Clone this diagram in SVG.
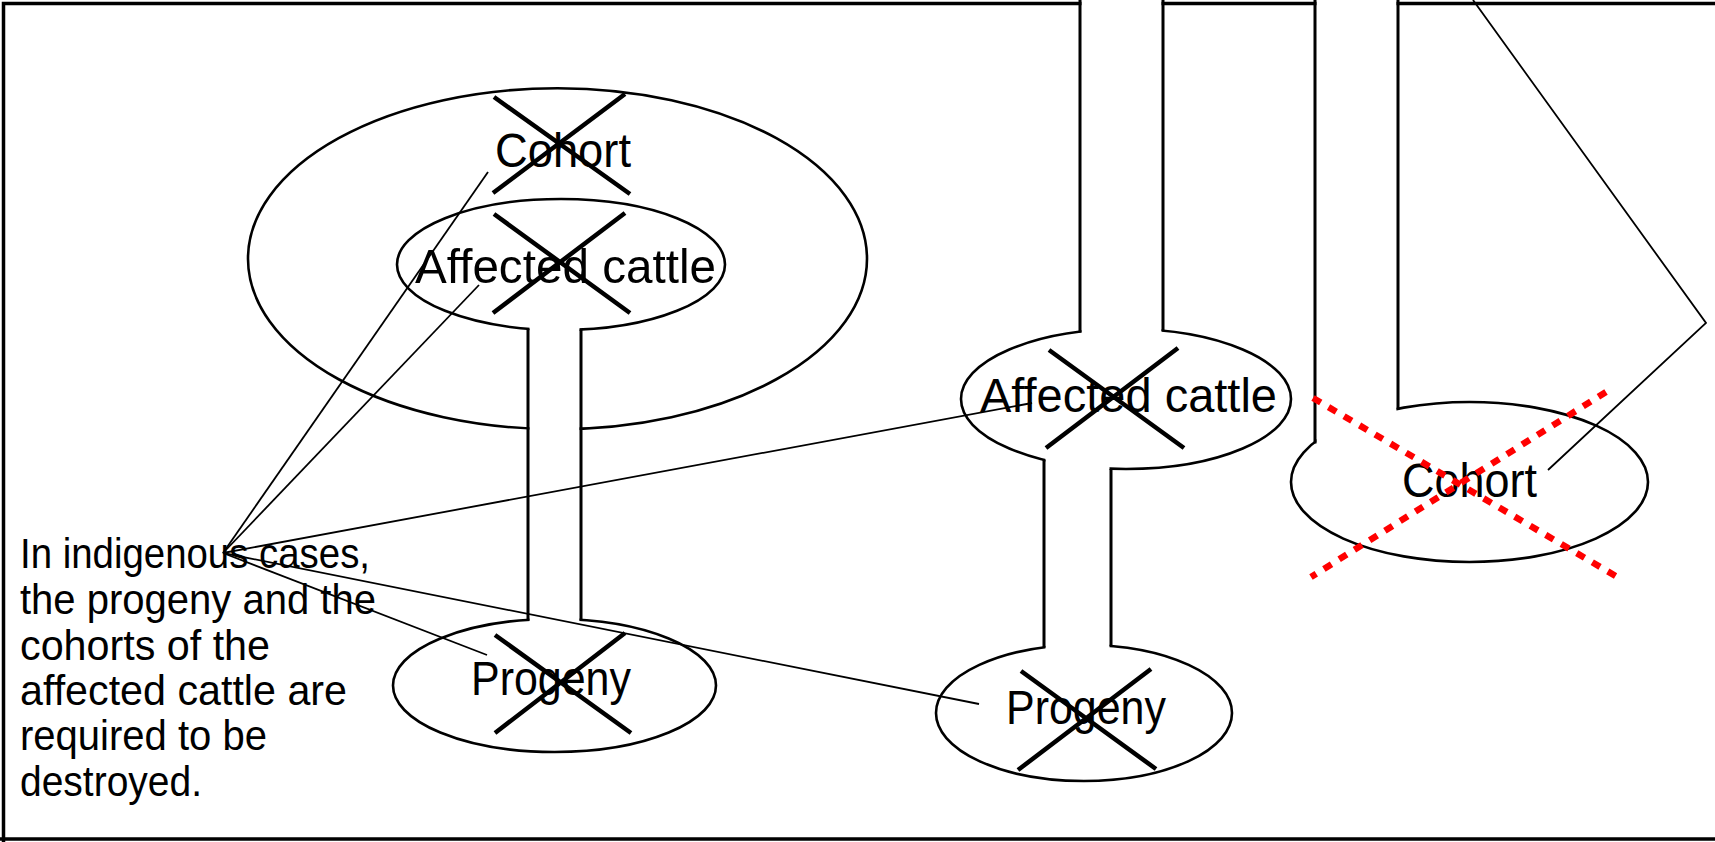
<svg xmlns="http://www.w3.org/2000/svg" width="1715" height="842" viewBox="0 0 1715 842">
<style>
.frame{stroke:#000;stroke-width:3.5;fill:none}
.ell{fill:#fff;stroke:#000;stroke-width:2.6}
.pipe{fill:#fff;stroke:none}
.pl{stroke:#000;stroke-width:3;fill:none}
.lbl{font-family:"Liberation Sans",Arial,sans-serif;font-size:49px;fill:#000}
.note{font-family:"Liberation Sans",Arial,sans-serif;font-size:43px;fill:#000}
.x{stroke:#000;stroke-width:4.5;fill:none}
.lead{stroke:#000;stroke-width:1.8;fill:none}
.red{stroke:#ff0000;stroke-width:6.5;stroke-dasharray:9 9;fill:none}
</style>
<rect width="1715" height="842" fill="#fff"/>
<g id="frame">
<path class="frame" d="M3.5,842 V3.5 H1715 M0,839 H1715"/>
</g>
<g id="node-cohort-1">
<ellipse class="ell" cx="557.5" cy="258.7" rx="309.5" ry="170.5"/>
</g>
<g id="node-affected-1">
<ellipse class="ell" cx="561" cy="264.5" rx="164" ry="65.5"/>
</g>
<g id="node-progeny-1">
<ellipse class="ell" cx="554.5" cy="685.5" rx="161.5" ry="66.5"/>
</g>
<g id="node-affected-2">
<ellipse class="ell" cx="1126" cy="399" rx="165" ry="70"/>
</g>
<g id="node-progeny-2">
<ellipse class="ell" cx="1084" cy="713" rx="148" ry="68"/>
</g>
<g id="node-cohort-2">
<ellipse class="ell" cx="1469.5" cy="482" rx="178.5" ry="80"/>
</g>
<g id="pipes">
<rect class="pipe" x="529.5" y="326" width="50" height="298"/>
<path class="pl" d="M528,328.7 V620.5 M581,329.5 V620.5"/>
<rect class="pipe" x="1081.5" y="0" width="80" height="334"/>
<path class="pl" d="M1080,0 V332.5 M1163,0 V331"/>
<rect class="pipe" x="1045.5" y="455" width="64" height="195"/>
<path class="pl" d="M1044,460 V647.5 M1111,469 V646"/>
<rect class="pipe" x="1316.5" y="0" width="80" height="445"/>
<path class="pl" d="M1315,0 V443.5 M1398,0 V409.5"/>
</g>
<g id="labels">
<text class="lbl" x="495" y="167" textLength="136" lengthAdjust="spacingAndGlyphs">Cohort</text>
<text class="lbl" x="415" y="283" textLength="301" lengthAdjust="spacingAndGlyphs">Affected cattle</text>
<text class="lbl" x="471" y="695" textLength="160" lengthAdjust="spacingAndGlyphs">Progeny</text>
<text class="lbl" x="980" y="412" textLength="297" lengthAdjust="spacingAndGlyphs">Affected cattle</text>
<text class="lbl" x="1006" y="724" textLength="160" lengthAdjust="spacingAndGlyphs">Progeny</text>
<text class="lbl" x="1402" y="497" textLength="135" lengthAdjust="spacingAndGlyphs">Cohort</text>
</g>
<g id="note">
<text class="note" x="20" y="568" textLength="350" lengthAdjust="spacingAndGlyphs">In indigenous cases,</text>
<text class="note" x="20" y="614" textLength="356" lengthAdjust="spacingAndGlyphs">the progeny and the</text>
<text class="note" x="20" y="660" textLength="250" lengthAdjust="spacingAndGlyphs">cohorts of the</text>
<text class="note" x="20" y="705" textLength="327" lengthAdjust="spacingAndGlyphs">affected cattle are</text>
<text class="note" x="20" y="750" textLength="247" lengthAdjust="spacingAndGlyphs">required to be</text>
<text class="note" x="20" y="796" textLength="182" lengthAdjust="spacingAndGlyphs">destroyed.</text>
</g>
<g id="crosses">
<path class="x" d="M494,97 L630,194 M625,94 L493,193"/>
<path class="x" d="M494,214 L630,313 M625,213 L493,313"/>
<path class="x" d="M495,635 L631,733 M625,633 L495,733"/>
<path class="x" d="M1049,350 L1184,448 M1178,348 L1046,448"/>
<path class="x" d="M1021,671 L1156,769 M1151,669 L1018,770"/>
</g>
<g id="connectors">
<path class="lead" d="M223,553 L488,172"/>
<path class="lead" d="M223,553 L479,285"/>
<path class="lead" d="M223,553 L1032,403"/>
<path class="lead" d="M223,553 L487,655"/>
<path class="lead" d="M223,553 L979,704"/>
<path class="lead" d="M1473,0 L1706,323 L1548,470"/>
</g>
<g id="red-cross">
<path class="red" d="M1313,398 L1619,578"/>
<path class="red" d="M1606,392 L1311,577"/>
</g>
</svg>
